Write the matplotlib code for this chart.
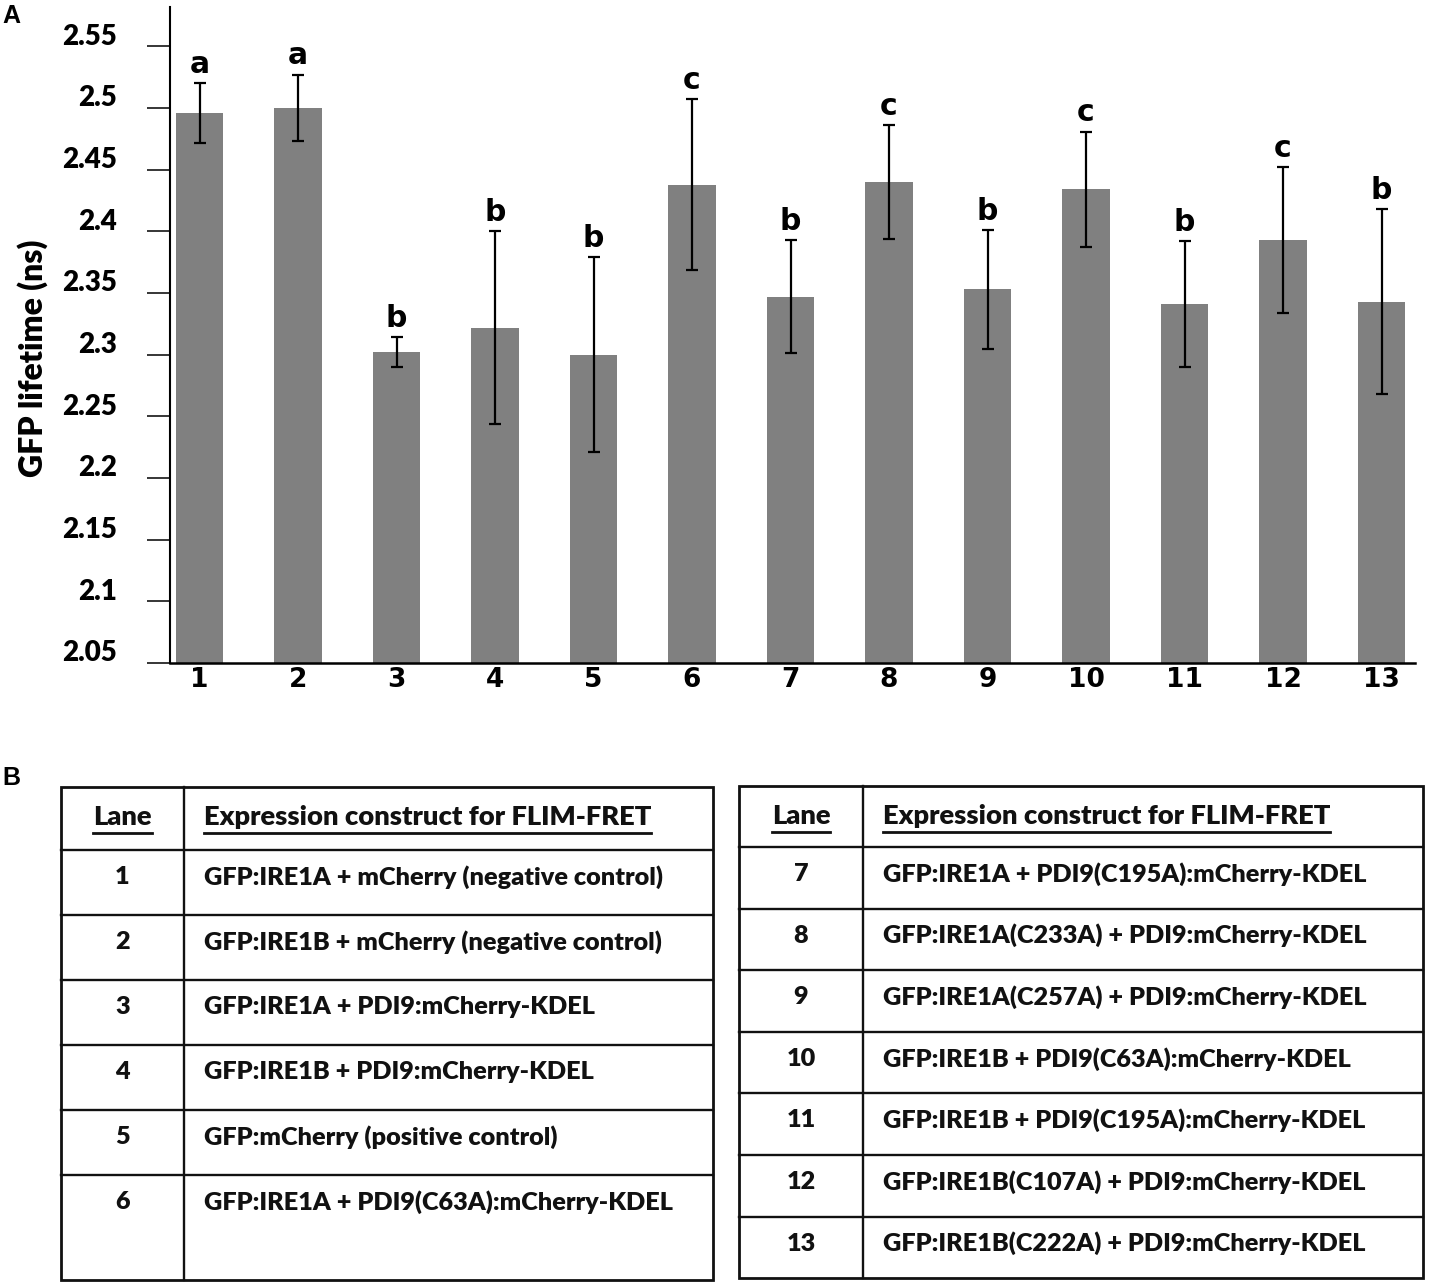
import numpy as np
import matplotlib.pyplot as plt
from matplotlib.patches import Rectangle

# --- data (panel A) ---
lanes = np.arange(1, 14)
lifetime = [2.496, 2.500, 2.302, 2.322, 2.300, 2.438, 2.347,
            2.440, 2.353, 2.434, 2.341, 2.393, 2.343]
sd = [0.024, 0.027, 0.012, 0.078, 0.079, 0.069, 0.046,
      0.046, 0.048, 0.047, 0.051, 0.059, 0.075]
groups = ['a', 'a', 'b', 'b', 'b', 'c', 'b', 'c', 'b', 'c', 'b', 'c', 'b']
yticks = [2.05, 2.1, 2.15, 2.2, 2.25, 2.3, 2.35, 2.4, 2.45, 2.5, 2.55]
ytick_labels = ['2.05', '2.1', '2.15', '2.2', '2.25', '2.3', '2.35',
                '2.4', '2.45', '2.5', '2.55']

# --- data (panel B) ---
lanes_left = ['1', '2', '3', '4', '5', '6']
constructs_left = ['GFP:IRE1A + mCherry (negative control)',
                   'GFP:IRE1B + mCherry (negative control)',
                   'GFP:IRE1A + PDI9:mCherry-KDEL',
                   'GFP:IRE1B + PDI9:mCherry-KDEL',
                   'GFP:mCherry (positive control)',
                   'GFP:IRE1A + PDI9(C63A):mCherry-KDEL']
lanes_right = ['7', '8', '9', '10', '11', '12', '13']
constructs_right = ['GFP:IRE1A + PDI9(C195A):mCherry-KDEL',
                    'GFP:IRE1A(C233A) + PDI9:mCherry-KDEL',
                    'GFP:IRE1A(C257A) + PDI9:mCherry-KDEL',
                    'GFP:IRE1B + PDI9(C63A):mCherry-KDEL',
                    'GFP:IRE1B + PDI9(C195A):mCherry-KDEL',
                    'GFP:IRE1B(C107A) + PDI9:mCherry-KDEL',
                    'GFP:IRE1B(C222A) + PDI9:mCherry-KDEL']
header = ['Lane', 'Expression construct for FLIM-FRET']

SANS = 'Lato'      # stand-in for Calibri
HEAVY = 800

W, H = 1430, 1284
fig = plt.figure(figsize=(W / 100, H / 100), dpi=100)

# ---------------- panel A ----------------
ax = fig.add_axes([170 / W, 1 - 663 / H, (1415 - 170) / W, (663 - 7) / H])
ax.bar(lanes, lifetime, width=0.48, color='#808080', zorder=1)
ax.errorbar(lanes, lifetime, yerr=sd, fmt='none', ecolor='black',
            elinewidth=1.6, capsize=4.5, capthick=1.6, zorder=2)
for x, m, s, g in zip(lanes, lifetime, sd, groups):
    ax.annotate(g, (x, m + s), xytext=(0, 7.5), textcoords='offset points',
                ha='center', va='baseline', fontsize=21.5, fontweight='bold',
                family='DejaVu Sans')

ax.set_xlim(0.70, 13.34)
ax.set_ylim(2.05, 2.582)
ax.spines['top'].set_visible(False)
ax.spines['right'].set_visible(False)
ax.spines['left'].set_linewidth(1.5)
ax.spines['bottom'].set_linewidth(1.8)

ax.set_xticks(lanes)
ax.set_xticklabels([str(v) for v in lanes], fontsize=19, fontweight='bold',
                   family='DejaVu Sans')
ax.tick_params(axis='x', length=0, pad=3)

ax.set_yticks(yticks)
ax.set_yticklabels([])
ax.tick_params(axis='y', direction='out', length=16.5, width=1.1)
# y labels sit a little above their ticks in the original
for v, lab in zip(yticks, ytick_labels):
    ax.annotate(lab, (-0.0426, v), xycoords=ax.get_yaxis_transform(),
                xytext=(0, 7), textcoords='offset points',
                ha='right', va='center', fontsize=20, fontweight=HEAVY,
                family=SANS, annotation_clip=False)

fig.text(33 / W, 1 - 358 / H, 'GFP lifetime (ns)', rotation=90,
         ha='center', va='center', fontsize=23, fontweight=HEAVY, family=SANS)

fig.text(2 / W, 1 - 16 / H, 'A', ha='left', va='center', fontsize=18,
         fontweight='bold', family='Liberation Sans')
fig.text(2 / W, 1 - 778 / H, 'B', ha='left', va='center', fontsize=18,
         fontweight='bold', family='Liberation Sans')

# ---------------- panel B ----------------
tax = fig.add_axes([0, 0, 1, 1])
tax.set_xlim(0, W)
tax.set_ylim(H, 0)
tax.axis('off')
renderer = fig.canvas.get_renderer()
ink = '#111111'


def draw_table(x0, x1, xdiv, y_top, header_h, row_hs, lane_txt, texts):
    edges = np.cumsum([y_top, header_h] + row_hs)
    tax.add_patch(Rectangle((x0, y_top), x1 - x0, edges[-1] - y_top,
                            fill=False, lw=2.0, ec=ink))
    for y in edges[1:-1]:
        tax.plot([x0, x1], [y, y], color=ink, lw=1.7)
    tax.plot([xdiv, xdiv], [y_top, edges[-1]], color=ink, lw=1.7)

    # header, underlined
    for txt, xx, ha in [(header[0], (x0 + xdiv) / 2, 'center'),
                        (header[1], xdiv + 20, 'left')]:
        t = tax.text(xx, y_top + 30, txt, ha=ha, va='center', fontsize=19.7,
                     fontweight=HEAVY, family=SANS, color=ink)
        bb = t.get_window_extent(renderer=renderer)
        tax.plot([bb.x0, bb.x1], [y_top + 46, y_top + 46], color=ink, lw=2.0)

    for i, (ln, tx) in enumerate(zip(lane_txt, texts)):
        yc = edges[i + 1] + 27
        tax.text((x0 + xdiv) / 2, yc, ln, ha='center', va='center',
                 fontsize=18.2, fontweight=HEAVY, family=SANS, color=ink)
        tax.text(xdiv + 20, yc, tx, ha='left', va='center',
                 fontsize=18.2, fontweight=HEAVY, family=SANS, color=ink)


draw_table(61, 713, 184, 787, 63, [65, 65, 65, 65, 65, 105],
           lanes_left, constructs_left)
draw_table(739, 1423, 863, 786, 61, [61.6] * 7,
           lanes_right, constructs_right)

fig.savefig('out.png', dpi=100)
